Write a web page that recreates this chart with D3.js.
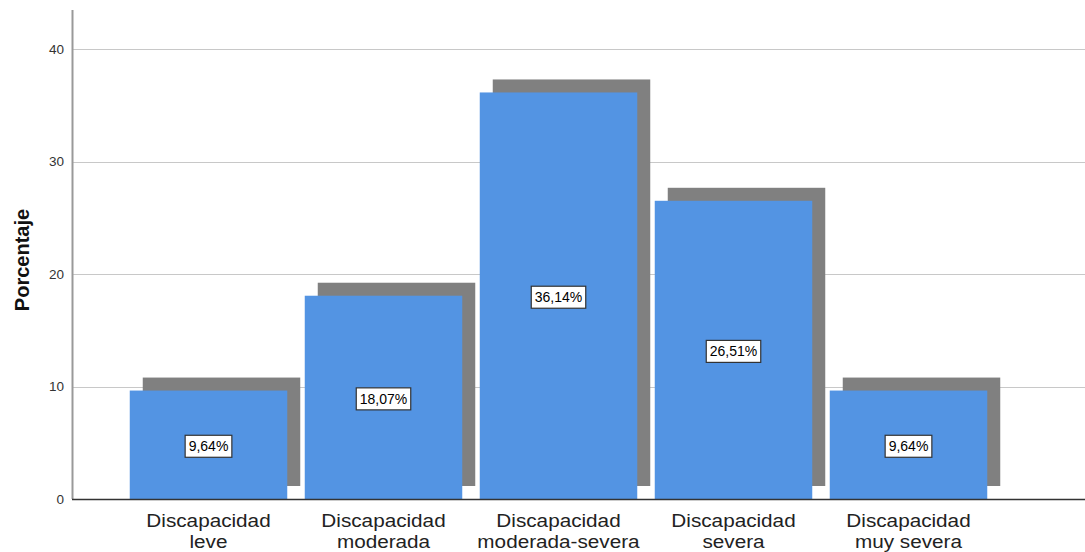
<!DOCTYPE html>
<html><head><meta charset="utf-8">
<script src="https://cdn.jsdelivr.net/npm/d3@7"></script>
<style>body{margin:0;background:#fff}svg{display:block}text{font-family:"Liberation Sans",Arial,sans-serif}</style>
</head><body>
<svg id="c" width="1085" height="552"></svg>
<script>
const categories = [["Discapacidad","leve"],["Discapacidad","moderada"],["Discapacidad","moderada-severa"],["Discapacidad","severa"],["Discapacidad","muy severa"]];
const values = [9.64, 18.07, 36.14, 26.51, 9.64];
const labels = ["9,64%","18,07%","36,14%","26,51%","9,64%"];
const yTicks = [0,10,20,30,40];

const svg = d3.select("#c");
const x0 = 72, x1 = 1085, yBase = 499, yTop = 10;
const keys = categories.map((d,i)=>i);
const x = d3.scaleBand().domain(keys).range([121,996]).paddingInner(0.1).paddingOuter(0.05);
const y = d3.scaleLinear().domain([0, 43.47]).range([yBase, yTop]);

// gridlines
svg.append("g").selectAll("line").data(yTicks.filter(t=>t>0)).join("line")
  .attr("x1", x0).attr("x2", x1).attr("y1", d=>Math.round(y(d))+0.5).attr("y2", d=>Math.round(y(d))+0.5)
  .attr("stroke","#c8c8c8").attr("stroke-width",1.2);

// y tick labels
svg.append("g").selectAll("text").data(yTicks).join("text")
  .attr("x", 64).attr("y", d=>y(d)).attr("dy","0.35em").attr("text-anchor","end")
  .attr("font-size",13.5).attr("fill","#333").text(d=>d);

const off = 13;
// shadows
svg.append("g").selectAll("rect").data(values).join("rect")
  .attr("x",(d,i)=>x(i)+off).attr("y",d=>y(d)-off).attr("width",x.bandwidth())
  .attr("height",d=>yBase-y(d)).attr("fill","#808080");
// bars
svg.append("g").selectAll("rect").data(values).join("rect")
  .attr("x",(d,i)=>x(i)).attr("y",d=>y(d)).attr("width",x.bandwidth())
  .attr("height",d=>yBase-y(d)).attr("fill","#5394E3");

// axes lines
svg.append("line").attr("x1",x0+0.5).attr("x2",x0+0.5).attr("y1",yTop).attr("y2",yBase).attr("stroke","#999").attr("stroke-width",2);
svg.append("line").attr("x1",x0).attr("x2",x1).attr("y1",yBase+0.5).attr("y2",yBase+0.5).attr("stroke","#333").attr("stroke-width",1.3);

// value labels
const lg = svg.append("g").selectAll("g").data(values).join("g")
  .attr("transform",(d,i)=>`translate(${x(i)+x.bandwidth()/2},${(y(d)+yBase)/2+1.5})`);
lg.append("text").attr("text-anchor","middle").attr("dy","0.36em").attr("font-size",14).attr("fill","#000")
  .text((d,i)=>labels[i]);
lg.each(function(){
  const g=d3.select(this); const t=g.select("text").node().getBBox();
  g.insert("rect","text").attr("x",t.x-3.5).attr("y",-11).attr("width",t.width+7).attr("height",22)
   .attr("fill","#fff").attr("stroke","#333").attr("stroke-width",1.2);
});

// x labels (two lines per category, slightly widened)
const xg = svg.append("g").selectAll("g").data(categories).join("g")
  .attr("transform",(d,i)=>`translate(${x(i)+x.bandwidth()/2},0) scale(1.12,1)`);
xg.append("text").attr("text-anchor","middle").attr("font-size",18.5).attr("fill","#222")
  .attr("y",527).text(d=>d[0]);
xg.append("text").attr("text-anchor","middle").attr("font-size",18.5).attr("fill","#222")
  .attr("y",548.5).text(d=>d[1]);

// y title
svg.append("text").attr("transform","translate(29,260) rotate(-90)").attr("text-anchor","middle")
  .attr("font-size",20).attr("font-weight","bold").attr("fill","#111").text("Porcentaje");
</script>
</body></html>
